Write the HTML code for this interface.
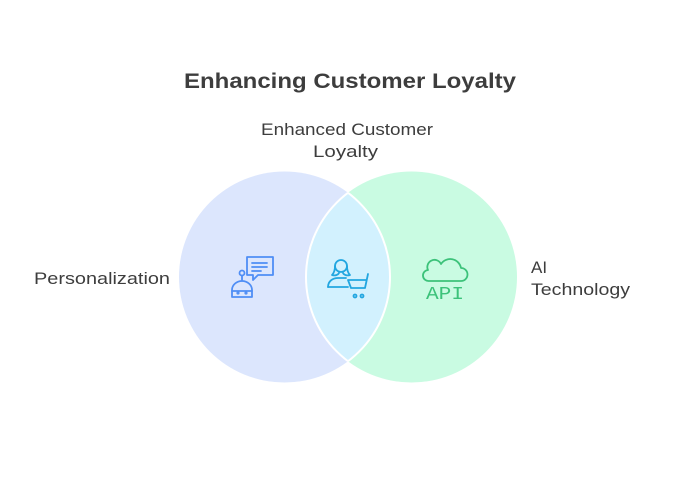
<!DOCTYPE html>
<html><head><meta charset="utf-8"><style>
body{margin:0;background:#fff;width:700px;height:500px;overflow:hidden}
svg{display:block}
text{font-family:"Liberation Sans",sans-serif;fill:#3d3d3d}
</style></head><body>
<svg width="700" height="500" viewBox="0 0 700 500">
<defs>
<clipPath id="cl"><circle cx="284.5" cy="277" r="105.5"/></clipPath>
<clipPath id="cr"><circle cx="411.5" cy="277" r="105.5"/></clipPath>
</defs>
<text x="184" y="88" font-size="21" font-weight="bold" textLength="332" lengthAdjust="spacingAndGlyphs">Enhancing Customer Loyalty</text>
<text x="261" y="135" font-size="17" textLength="172" lengthAdjust="spacingAndGlyphs">Enhanced Customer</text>
<text x="313" y="157" font-size="17" textLength="65" lengthAdjust="spacingAndGlyphs">Loyalty</text>
<text x="34" y="284" font-size="17" textLength="136" lengthAdjust="spacingAndGlyphs">Personalization</text>
<text x="531" y="273" font-size="17">AI</text>
<text x="531" y="295" font-size="17" textLength="99" lengthAdjust="spacingAndGlyphs">Technology</text>
<circle cx="284.5" cy="277" r="105.5" fill="#dce6fd"/>
<circle cx="411.5" cy="277" r="105.5" fill="#c9fbe2"/>
<circle cx="411.5" cy="277" r="105.5" fill="#d2f1fe" clip-path="url(#cl)"/>
<circle cx="411.5" cy="277" r="105.5" fill="none" stroke="#fff" stroke-width="2" clip-path="url(#cl)"/>
<circle cx="284.5" cy="277" r="105.5" fill="none" stroke="#fff" stroke-width="2" clip-path="url(#cr)"/>
<!-- robot chat icon -->
<g fill="none" stroke="#4f8ef5" stroke-width="1.8" stroke-linecap="round" stroke-linejoin="round">
<path d="M247 257h26v18h-15l-5 5v-5h-6z"/>
<path d="M252 263h15M252 267h15M252 271h9"/>
<circle cx="242" cy="273" r="2.5"/>
<path d="M242 276v4"/>
<path d="M232 297v-7a10 9 0 0 1 20 0v7z"/>
<path d="M232 291h20"/>
<circle cx="238" cy="293" r="0.7"/><circle cx="246" cy="293" r="0.7"/>
</g>
<!-- person cart icon -->
<g fill="none" stroke="#22a6e0" stroke-width="1.8" stroke-linecap="round" stroke-linejoin="round">
<circle cx="341" cy="266" r="6"/>
<path d="M335 266c0 5-2 8-3 9c3 1 6 0 7-2M347 266c0 5 2 8 3 9c-3 1-6 0-7-2"/>
<path d="M328 287c0-6 5-9 10-9h8"/>
<path d="M328 287h20"/>
<path d="M368 274l-3 14h-14l-3-8h18"/>
<circle cx="355" cy="296" r="1.5"/><circle cx="362" cy="296" r="1.5"/>
</g>
<!-- cloud API icon -->
<g fill="none" stroke="#3cc27a" stroke-width="1.8" stroke-linecap="round" stroke-linejoin="round">
<path d="M429 281h32a6.5 6.5 0 0 0 0-13a11 11 0 0 0-20-4a7 7 0 0 0-13 6a5.5 5.5 0 0 0 1 11z"/>
</g>
<text x="445" y="299" text-anchor="middle" font-size="18" style="fill:#3cc27a;font-family:'Liberation Mono',monospace" textLength="38" lengthAdjust="spacingAndGlyphs">API</text>
</svg>
</body></html>
